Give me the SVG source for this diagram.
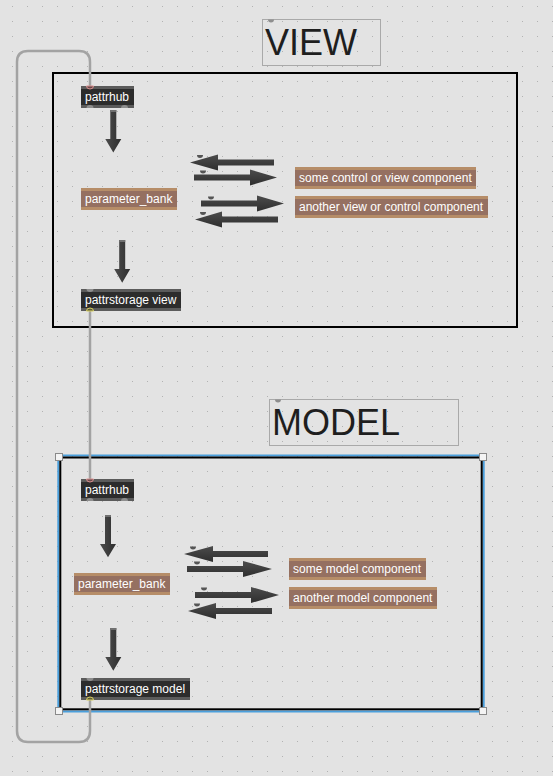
<svg xmlns="http://www.w3.org/2000/svg" width="553" height="776" viewBox="0 0 553 776">
<defs>
<pattern id="grid" x="12" y="6" width="15" height="15" patternUnits="userSpaceOnUse"><rect width="1" height="1" fill="#b2b2b2"/></pattern>
<linearGradient id="ah" x1="0" y1="0" x2="0" y2="1"><stop offset="0" stop-color="#4c4c4c"/><stop offset="1" stop-color="#2e2e2e"/></linearGradient>
<linearGradient id="av" x1="0" y1="0" x2="1" y2="0"><stop offset="0" stop-color="#4c4c4c"/><stop offset="1" stop-color="#2e2e2e"/></linearGradient>
<style>
.obj{fill:#2c2c2c}
.strip{fill:#5b5b5b}
.ot{font-family:"Liberation Sans",Arial,sans-serif;font-size:12px;fill:#ffffff}
.pb{fill:#b68d68}
.pbi{fill:#957061}
.cmt{fill:none;stroke:#a9a9a9;stroke-width:1}
.big{font-family:"Liberation Sans",Arial,sans-serif;font-size:36px;fill:#1e1e1e}
.port{fill:#8e8e8e}
.mark{fill:#555555}
.cord{fill:none;stroke:#a3a3a3;stroke-width:2.5}
.arh{fill:url(#ah)}
.arv{fill:url(#av)}
.handle{fill:#f4f4f4;stroke:#8a8a8a;stroke-width:1}
.inpink{fill:#6a4a4a;stroke:#d89090;stroke-width:1}
.outyel{fill:#5a5a3a;stroke:#d8cf60;stroke-width:1}
</style>
</defs>
<rect width="553" height="776" fill="#e3e3e3"/>
<rect width="553" height="776" fill="url(#grid)"/>

<g id="view-label">
<rect class="cmt" x="262.5" y="19.5" width="118" height="46"/>
<path class="port" d="M268,19.5 A3,3 0 0 0 274,19.5 Z"/>
<text class="big" x="265" y="55">VIEW</text>
</g>

<g id="view-panel">
<rect x="53" y="73" width="464" height="254" fill="none" stroke="#000000" stroke-width="2"/>
</g>

<g id="model-label">
<rect class="cmt" x="269.5" y="399.5" width="189" height="46"/>
<path class="port" d="M275,399.5 A3,3 0 0 0 281,399.5 Z"/>
<text class="big" x="272" y="435">MODEL</text>
</g>

<g id="model-panel">
<rect x="58.3" y="455.5" width="425.4" height="256" fill="none" stroke="#4a9fdc" stroke-width="2"/>
<rect x="60.3" y="457.5" width="421.4" height="251.8" fill="none" stroke="#000000" stroke-width="2"/>
<rect class="handle" x="55.5" y="453.5" width="7" height="7"/>
<rect class="handle" x="479.5" y="453.5" width="7" height="7"/>
<rect class="handle" x="55.5" y="707.5" width="7" height="7"/>
<rect class="handle" x="479.5" y="707.5" width="7" height="7"/>
</g>

<g id="connectors">
<path class="cord" d="M90,311 V480"/>
<path class="cord" d="M90,698 V731 Q90,742 79,742 H28 Q17,742 17,731 V62 Q17,51 28,51 H79 Q90,51 90,62 V86"/>
</g>

<g id="view-pattrhub">
<rect class="strip" x="81" y="86" width="53" height="22"/>
<rect class="obj" x="81" y="89" width="53" height="16"/>
<path class="inpink" d="M86.5,86 A3.5,3 0 0 0 93.5,86 Z"/>
<path class="port" d="M86.5,108 A3.5,3 0 0 1 93.5,108 Z"/>
<path class="port" d="M121,108 A3.5,3 0 0 1 128,108 Z"/>
<text class="ot" x="85" y="101">pattrhub</text>
</g>

<g id="view-parameter_bank">
<rect class="pb" x="81" y="188" width="96" height="22"/>
<rect class="pbi" x="81" y="191" width="96" height="16"/>
<text class="ot" x="85" y="203">parameter_bank</text>
</g>

<g id="view-pattrstorage">
<rect class="strip" x="81" y="289" width="100" height="22"/>
<rect class="obj" x="81" y="292" width="100" height="16"/>
<path class="port" d="M86.5,289 A3.5,3 0 0 0 93.5,289 Z"/>
<path class="outyel" d="M86.5,311 A3.5,3 0 0 1 93.5,311 Z"/>
<text class="ot" x="85" y="304">pattrstorage view</text>
</g>

<g id="view-comp1">
<rect class="pb" x="295" y="167" width="181" height="22"/>
<rect class="pbi" x="295" y="170" width="181" height="16"/>
<text class="ot" x="299" y="182">some control or view component</text>
</g>

<g id="view-comp2">
<rect class="pb" x="295" y="196" width="193" height="22"/>
<rect class="pbi" x="295" y="199" width="193" height="16"/>
<text class="ot" x="299" y="211">another view or control component</text>
</g>

<g id="model-pattrhub">
<rect class="strip" x="81" y="479" width="53" height="22"/>
<rect class="obj" x="81" y="482" width="53" height="16"/>
<path class="inpink" d="M86.5,479 A3.5,3 0 0 0 93.5,479 Z"/>
<path class="port" d="M86.5,501 A3.5,3 0 0 1 93.5,501 Z"/>
<path class="port" d="M121,501 A3.5,3 0 0 1 128,501 Z"/>
<text class="ot" x="85" y="494">pattrhub</text>
</g>

<g id="model-parameter_bank">
<rect class="pb" x="74" y="573" width="96" height="22"/>
<rect class="pbi" x="74" y="576" width="96" height="16"/>
<text class="ot" x="78" y="588">parameter_bank</text>
</g>

<g id="model-pattrstorage">
<rect class="strip" x="81" y="678" width="109" height="22"/>
<rect class="obj" x="81" y="681" width="109" height="16"/>
<path class="port" d="M86.5,678 A3.5,3 0 0 0 93.5,678 Z"/>
<path class="outyel" d="M86.5,700 A3.5,3 0 0 1 93.5,700 Z"/>
<text class="ot" x="85" y="693">pattrstorage model</text>
</g>

<g id="model-comp1">
<rect class="pb" x="289" y="558" width="137" height="22"/>
<rect class="pbi" x="289" y="561" width="137" height="16"/>
<text class="ot" x="293" y="573">some model component</text>
</g>

<g id="model-comp2">
<rect class="pb" x="289" y="587" width="148" height="22"/>
<rect class="pbi" x="289" y="590" width="148" height="16"/>
<text class="ot" x="293" y="602">another model component</text>
</g>

<g id="arrows">
<path class="arv" d="M110.3,110 H116.3 V139 H121.3 L113.3,152.5 L105.3,139 H110.3 Z"/>
<rect x="110.3" y="110" width="6" height="2" fill="#707070"/>
<path class="arv" d="M119.2,240 H125.2 V269 H130.2 L122.2,282.7 L114.2,269 H119.2 Z"/>
<rect x="119.2" y="240" width="6" height="2" fill="#707070"/>
<path class="arh" d="M190,162.5 L218,154.5 V159.5 H274 V165.5 H218 V170.5 Z"/>
<path class="arh" d="M277,177.5 L250,169.5 V174.5 H194 V180.5 H250 V185.5 Z"/>
<path class="arh" d="M284,203.5 L257,195.5 V200.5 H201 V206.5 H257 V211.5 Z"/>
<path class="arh" d="M195,219.5 L222,211.5 V216.5 H278 V222.5 H222 V227.5 Z"/>
<path class="mark" d="M197,155 A3,3 0 0 0 203,155 Z"/>
<path class="mark" d="M200,170.5 A3,3 0 0 0 206,170.5 Z"/>
<path class="mark" d="M208,196.5 A3,3 0 0 0 214,196.5 Z"/>
<path class="mark" d="M200,212 A3,3 0 0 0 206,212 Z"/>
<path class="arv" d="M105,515 H111 V544 H116 L108,557.3 L100,544 H105 Z"/>
<rect x="105" y="515" width="6" height="2" fill="#707070"/>
<path class="arv" d="M110.3,628 H116.3 V657 H121.3 L113.3,670.7 L105.3,657 H110.3 Z"/>
<rect x="110.3" y="628" width="6" height="2" fill="#707070"/>
<path class="arh" d="M184,554 L213,546 V551 H268 V557 H213 V562 Z"/>
<path class="arh" d="M272,569 L243,561 V566 H187 V572 H243 V577 Z"/>
<path class="arh" d="M279,595 L251,587 V592 H195 V598 H251 V603 Z"/>
<path class="arh" d="M188,611 L216,603 V608 H272 V614 H216 V619 Z"/>
<path class="mark" d="M190,546.5 A3,3 0 0 0 196,546.5 Z"/>
<path class="mark" d="M194,561.5 A3,3 0 0 0 200,561.5 Z"/>
<path class="mark" d="M201,587.5 A3,3 0 0 0 207,587.5 Z"/>
<path class="mark" d="M194,603.5 A3,3 0 0 0 200,603.5 Z"/>
</g>
</svg>
